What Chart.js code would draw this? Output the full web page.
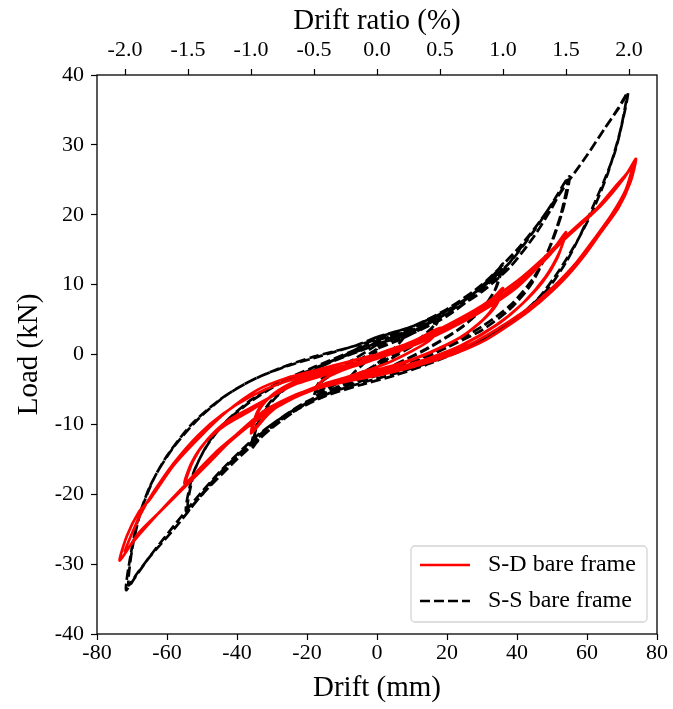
<!DOCTYPE html>
<html>
<head>
<meta charset="utf-8">
<script src="https://cdn.jsdelivr.net/npm/chart.js@4.4.1/dist/chart.umd.min.js"></script>
<style>
  html, body { margin: 0; padding: 0; background: #fff; }
  #wrap { width: 673px; height: 709px; }
</style>
</head>
<body>
<div id="wrap"><canvas id="hyst"></canvas></div>
<script>
// hysteresis curves, [drift mm, load kN]
// each cycle: from ~0 up to +peak, back down to -peak, back to ~0

// S-S bare frame (black dashed)
var ssCycle9 = [[0,1.2],[4,2],[9,3.4],[7,2],[4,0.4],[0,-1.3],[-4,-2.6],[-9,-4.2],[-7,-2.8],[-4,-1.4],[0,0.5]];
var ssCycle18a = [[0,0.8],[6,2],[12,3.5],[18,5.5],[16,3.6],[12,1.8],[6,0],[0,-1.8],[-6,-3],[-12,-4.3],[-18,-6],[-16,-4],[-12,-2.6],[-6,-1],[0,0.8]];
var ssCycle18b = [[0,1.4],[6,2.4],[12,3.8],[18,5.8],[16,4],[12,2.2],[6,0.3],[0,-1.5],[-6,-2.9],[-12,-4],[-18,-5.5],[-16,-3.6],[-12,-2.2],[-6,-0.5],[0,1.4]];
var ssCycle36a = [[0,1.5],[10,3],[20,5.5],[28,8.5],[33,11],[36,13],[34,9.5],[30,6.5],[24,3.8],[15,1],[5,-1.5],[-5,-3.3],[-15,-5.5],[-25,-8.3],[-32,-11],[-36,-13.5],[-34,-9.5],[-30,-6.5],[-24,-4],[-15,-1.5],[-5,0.5],[0,1.5]];
var ssCycle36b = [[0,1.8],[10,3.3],[20,5.9],[28,8.9],[33,11.2],[35.5,12.5],[33.5,9],[29,6],[23,3.5],[14,0.8],[4,-1.7],[-6,-3.5],[-16,-5.8],[-26,-8.7],[-32,-11.3],[-35.5,-13],[-33.5,-9.2],[-29,-6.2],[-23,-3.7],[-14,-1.2],[-4,0.8],[0,1.8]];
var ssCycle54a = [[0,2],[10,3.5],[20,5.8],[30,9],[38,12.5],[45,17],[50,21],[54.5,25],[52.5,20],[49,15],[44,10],[38,6.5],[30,3.5],[20,1],[10,-1.3],[0,-3],[-10,-4.8],[-20,-7],[-30,-10.5],[-40,-15],[-48,-19],[-54,-22],[-52,-16.5],[-48,-12.5],[-43,-9.5],[-36,-6.5],[-28,-4],[-18,-1.8],[-8,0.3],[0,2]];
var ssCycle54b = [[0,2.4],[10,4],[20,6.3],[30,9.6],[38,13.2],[45,17.8],[50,21.6],[55,25.5],[53,20.5],[49.5,15.5],[44.5,10.8],[38,7],[30,4],[20,1.3],[10,-1],[0,-2.7],[-10,-4.5],[-20,-6.7],[-30,-10],[-40,-14.5],[-48,-18.7],[-54.5,-22.5],[-52.5,-17],[-48.5,-13],[-43.5,-9.8],[-36,-6.7],[-28,-4.2],[-18,-2],[-8,0.2],[0,2.4]];
var ssCycle72a = [[0,2.2],[10,3.8],[20,6.3],[30,9.5],[36,12],[45,18],[50,21.5],[55,25],[60,28.5],[65,32.3],[69,35.3],[71.7,37.5],[70,33],[68,29],[65,25],[62,21.5],[58,17],[54,13.2],[49,9.5],[43,6.5],[36,4],[26,1],[15,-1.3],[5,-3],[-5,-4.4],[-15,-6],[-25,-8.5],[-36,-12.7],[-44,-16.5],[-50.6,-20.4],[-58,-25],[-65,-29],[-69,-31.8],[-71.7,-33.7],[-70.5,-29],[-68.5,-24],[-65,-19],[-60,-14.5],[-53,-10],[-45,-6.5],[-37,-4],[-28,-2],[-18,-0.3],[-8,1],[0,2.2]];
var ssCycle72b = [[0,2.5],[10,4],[20,6.5],[30,10],[40,15],[48,20],[55,25],[60,28.5],[65,32.3],[69,35.2],[71.3,37],[69.5,32],[66,26],[62,21],[57.5,16.5],[52,12],[46,8],[38,4.5],[28,1.5],[17,-0.8],[6,-2.6],[-4,-4],[-14,-5.6],[-24,-8],[-34,-11.5],[-44,-16.3],[-52,-20.8],[-58,-24.5],[-64,-28.3],[-68.5,-31.3],[-71,-33],[-70,-28],[-67.5,-22.5],[-63.5,-17.5],[-58,-13.2],[-51,-9.2],[-43,-5.8],[-35,-3.5],[-26,-1.7],[-16,-0.2],[-6,1.3],[0,2.5]];

// S-D bare frame (red solid)
var sdCycle18 = [[0,-0.3],[6,1],[12,2.3],[18,3.8],[15,2],[10,0.5],[4,-1],[0,-1.8],[-6,-2.8],[-12,-3.8],[-18,-5],[-15,-3.5],[-10,-2.3],[-4,-1.2],[0,-0.5]];
var sdCycle36a = [[0,-0.3],[10,1.5],[20,3.8],[28,6],[33,8],[36,9.5],[34,7],[30,4.8],[24,2.5],[15,0.3],[5,-1.5],[-5,-2.8],[-15,-4.2],[-25,-6.3],[-31,-8.5],[-36,-11.3],[-34,-8],[-30,-5.8],[-24,-4],[-15,-2.6],[-6,-1.3],[0,-0.3]];
var sdCycle36b = [[0,-0.6],[10,1.2],[20,3.5],[28,5.7],[32.5,7.6],[35,9],[33,6.6],[29,4.4],[23,2.2],[14,0],[4,-1.8],[-6,-3],[-16,-4.4],[-26,-6.6],[-31.5,-8.7],[-35.5,-10.8],[-33.5,-7.8],[-29.5,-5.6],[-23,-3.8],[-14,-2.4],[-5,-1.2],[0,-0.6]];
var sdCycle54a = [[0,-0.2],[10,1.5],[20,3.8],[30,6.5],[40,10],[47,13.5],[51,15.5],[54,17.5],[52,14.5],[48,11],[42,7.5],[35,4.5],[25,1.5],[15,-0.5],[5,-2],[-5,-3.2],[-15,-4.5],[-25,-6.5],[-35,-9.5],[-45,-13.5],[-50,-16],[-55,-18.5],[-53,-15.5],[-49,-12.5],[-43,-10],[-36,-8],[-30,-6],[-24,-4.3],[-15,-2.8],[-7,-1.6],[0,-0.4]];
var sdCycle54b = [[0,-0.5],[10,1.2],[20,3.5],[30,6.2],[40,9.6],[47,13],[51,15.2],[53.5,16.8],[51.5,13.8],[47.5,10.5],[41,7],[34,4.2],[24,1.3],[14,-0.7],[4,-2.2],[-6,-3.4],[-16,-4.7],[-26,-6.8],[-36,-10],[-45,-13.8],[-50,-16.3],[-54.5,-18.2],[-52.5,-15.2],[-48.5,-12.2],[-43,-9.6],[-36,-7.6],[-29,-5.7],[-23,-4.2],[-14,-2.8],[-6,-1.6],[0,-0.5]];
var sdCycle74a = [[0,0],[10,1.8],[20,4.2],[30,7],[40,10.5],[48,14],[53,16.5],[58,18.8],[63,21],[68,24],[71.5,26],[74,28],[72.5,24.8],[69,21],[64,17.5],[59,14],[53,10.5],[46.5,7.5],[40,5],[30,1.8],[20,-0.3],[10,-1.8],[0,-3],[-10,-4],[-20,-5.3],[-30,-7.5],[-40,-11.5],[-48,-15.5],[-55,-19],[-62,-22.5],[-68,-25.5],[-73.5,-29.5],[-71.5,-26],[-68,-22.5],[-65,-20.8],[-58,-15.8],[-50.6,-11.8],[-43,-8.2],[-34.3,-5.1],[-26,-3.4],[-17,-2.2],[-8,-1],[0,0]];
var sdCycle74b = [[0,-0.3],[10,1.5],[20,3.8],[30,6.5],[40,10],[48,13.6],[53,16.2],[58,18.5],[63,20.8],[67,23],[70.5,25.2],[73,27],[71,23.5],[67,20],[62,16.5],[57,13.2],[51,10],[45,7.3],[38,4.8],[28,1.8],[18,-0.3],[8,-1.8],[-2,-3],[-12,-4.1],[-22,-5.5],[-32,-8],[-42,-12.3],[-50,-16.3],[-57,-19.8],[-63,-23],[-68,-25.8],[-72,-28.2],[-70.6,-26.3],[-67.5,-22.8],[-64,-19.8],[-58,-15.5],[-51,-11.5],[-44,-8.5],[-36,-6],[-27,-4],[-17,-2.6],[-7,-1.3],[0,-0.3]];

var seriesLabels = ['S-D bare frame', 'S-S bare frame'];
var xTicksMm = { min: -80, max: 80, step: 20 };
var yTicksKn = { min: -40, max: 40, step: 10 };
var ratioTicks = [-2.0, -1.5, -1.0, -0.5, 0.0, 0.5, 1.0, 1.5, 2.0];  // top axis, drift ratio in %
var mmPerPercent = 36;    // 2.0 % = 72 mm

function toPoints(cycles) {
  var out = [];
  cycles.forEach(function (c) {
    c.forEach(function (p) { out.push({ x: p[0], y: p[1] }); });
  });
  return out;
}

var sdData = toPoints([sdCycle18, sdCycle36a, sdCycle36b, sdCycle54a, sdCycle54b, sdCycle74a, sdCycle74b]);
var ssData = toPoints([ssCycle9, ssCycle18a, ssCycle18b, ssCycle36a, ssCycle36b, ssCycle54a, ssCycle54b, ssCycle72a, ssCycle72b]);

var serif = 'Liberation Serif';

// plot frame
var frame = {
  id: 'frame',
  afterDatasetsDraw: function (chart) {
    var a = chart.chartArea, ctx = chart.ctx;
    ctx.save();
    ctx.strokeStyle = '#000';
    ctx.lineWidth = 1.3;
    ctx.strokeRect(a.left, a.top, a.right - a.left, a.bottom - a.top);
    ctx.restore();
  }
};

// legend box in the lower right of the plot
var legendBox = {
  id: 'legendBox',
  afterDatasetsDraw: function (chart) {
    var ctx = chart.ctx, a = chart.chartArea;
    var w = 236, h = 76;
    var x = a.right - 10 - w, y = a.bottom - 12 - h;
    ctx.save();
    ctx.beginPath();
    ctx.roundRect(x, y, w, h, 4);
    ctx.fillStyle = 'rgba(255,255,255,0.8)';
    ctx.fill();
    ctx.strokeStyle = '#d4d4d4';
    ctx.lineWidth = 1.3;
    ctx.stroke();
    chart.data.datasets.forEach(function (ds, i) {
      var ly = y + 19 + i * 36;
      ctx.beginPath();
      ctx.setLineDash(ds.borderDash || []);
      ctx.strokeStyle = ds.borderColor;
      ctx.lineWidth = ds.borderWidth;
      ctx.moveTo(x + 9, ly);
      ctx.lineTo(x + 59, ly);
      ctx.stroke();
      ctx.setLineDash([]);
      ctx.fillStyle = '#000';
      ctx.font = '24px "' + serif + '"';
      ctx.textBaseline = 'middle';
      ctx.textAlign = 'left';
      ctx.fillText(ds.label, x + 77, ly);
    });
    ctx.restore();
  }
};

new Chart(document.getElementById('hyst'), {
  type: 'scatter',
  data: {
    datasets: [
      {
        label: seriesLabels[0],
        data: sdData,
        showLine: true,
        borderColor: '#ff0000',
        borderWidth: 2.7,
        pointRadius: 0,
        tension: 0.25
      },
      {
        label: seriesLabels[1],
        data: ssData,
        showLine: true,
        borderColor: '#000000',
        borderWidth: 2.7,
        borderDash: [10, 4],
        pointRadius: 0,
        tension: 0.25
      }
    ]
  },
  options: {
    responsive: true,
    maintainAspectRatio: false,
    animation: false,
    layout: { padding: { left: 0, right: 16, top: 0, bottom: 0 } },
    plugins: {
      legend: { display: false },
      tooltip: { enabled: false }
    },
    scales: {
      x: {
        type: 'linear',
        position: 'bottom',
        min: xTicksMm.min,
        max: xTicksMm.max,
        border: { display: false },
        grid: { drawOnChartArea: false, drawTicks: true, tickLength: 6, color: '#000', tickWidth: 1.2 },
        ticks: { stepSize: xTicksMm.step, color: '#000', padding: 0, font: { family: serif, size: 22 } },
        title: { display: true, text: 'Drift (mm)', color: '#000', font: { family: serif, size: 29 }, padding: { top: 0, bottom: 3 } },
        afterFit: function (s) { s.height = 75; }
      },
      x2: {
        type: 'linear',
        position: 'top',
        min: xTicksMm.min / mmPerPercent,
        max: xTicksMm.max / mmPerPercent,
        border: { display: false },
        grid: { drawOnChartArea: false, drawTicks: true, tickLength: 6, color: '#000', tickWidth: 1.2 },
        ticks: {
          color: '#000', padding: 6, font: { family: serif, size: 22 },
          callback: function (v) { return Number(v).toFixed(1); }
        },
        afterBuildTicks: function (s) {
          s.ticks = ratioTicks.map(function (v) { return { value: v }; });
        },
        title: { display: true, text: 'Drift ratio (%)', color: '#000', font: { family: serif, size: 29 }, padding: { top: 4, bottom: 0 } },
        afterFit: function (s) { s.height = 75; }
      },
      y: {
        type: 'linear',
        position: 'left',
        min: yTicksKn.min,
        max: yTicksKn.max,
        border: { display: false },
        grid: { drawOnChartArea: false, drawTicks: true, tickLength: 6, color: '#000', tickWidth: 1.2 },
        ticks: { stepSize: yTicksKn.step, color: '#000', padding: 7, font: { family: serif, size: 22 } },
        title: { display: true, text: 'Load (kN)', color: '#000', font: { family: serif, size: 29 }, padding: { top: 12, bottom: 0 } },
        afterFit: function (s) { s.width = 97; }
      }
    }
  },
  plugins: [frame, legendBox]
});
</script>
</body>
</html>
